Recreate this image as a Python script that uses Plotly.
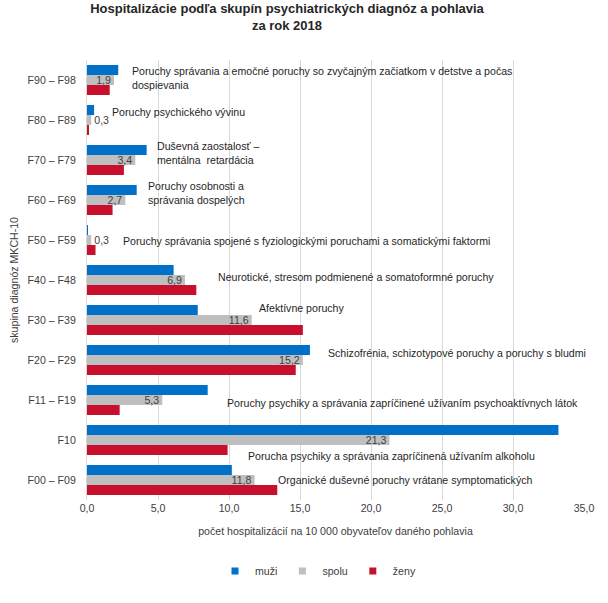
import plotly.graph_objects as go

categories = ["F00 – F09", "F10", "F11 – F19", "F20 – F29", "F30 – F39", "F40 – F48",
              "F50 – F59", "F60 – F69", "F70 – F79", "F80 – F89", "F90 – F98"]
muzi = [10.2, 33.2, 8.5, 15.7, 7.8, 6.1, 0.05, 3.5, 4.2, 0.5, 2.2]
spolu = [11.8, 21.3, 5.3, 15.2, 11.6, 6.9, 0.3, 2.7, 3.4, 0.3, 1.9]
zeny = [13.4, 9.9, 2.3, 14.7, 15.2, 7.7, 0.6, 1.8, 2.6, 0.1, 1.6]

descriptions = [
    "Organické duševné poruchy vrátane symptomatických",
    "Porucha psychiky a správania zapríčinená užívaním alkoholu",
    "Poruchy psychiky a správania zapríčinené užívaním psychoaktívnych látok",
    "Schizofrénia, schizotypové poruchy a poruchy s bludmi",
    "Afektívne poruchy",
    "Neurotické, stresom podmienené a somatoformné poruchy",
    "Poruchy správania spojené s fyziologickými poruchami a somatickými faktormi",
    "Poruchy osobnosti a<br>správania dospelých",
    "Duševná zaostalosť –<br>mentálna  retardácia",
    "Poruchy psychického vývinu",
    "Poruchy správania a emočné poruchy so zvyčajným začiatkom v detstve a počas<br>dospievania",
]
# label placement (x in data units, vertical shift in px)
desc_x = [13.3, 11.2, 9.7, 16.8, 12.0, 9.1, 2.4, 4.15, 4.8, 1.6, 3.0]
desc_shift = [0, -16, -3, 7, 12, 3, -1, 7, 7, 8, 2]

series_names = ["muži", "spolu", "ženy"]
series_colors = ["#0070C8", "#BFBFBF", "#C8102E"]

FONT = "Liberation Sans, Arial, sans-serif"
FS = 10.6

fig = go.Figure()
fig.add_trace(go.Bar(y=categories, x=zeny, orientation="h", name="ženy", showlegend=False,
                     marker=dict(color=series_colors[2], line=dict(width=0))))
fig.add_trace(go.Bar(y=categories, x=spolu, orientation="h", name="spolu", showlegend=False,
                     marker=dict(color=series_colors[1], line=dict(width=0)),
                     texttemplate="%{x:.1f}", textposition="auto",
                     insidetextanchor="end", constraintext="none",
                     textfont=dict(size=FS, color="#404040", family=FONT),
                     cliponaxis=False))
fig.add_trace(go.Bar(y=categories, x=muzi, orientation="h", name="muži", showlegend=False,
                     marker=dict(color=series_colors[0], line=dict(width=0))))

# legend entries with small square swatches
for n, c in zip(series_names, series_colors):
    fig.add_trace(go.Scatter(x=[None], y=[None], mode="markers", name=n,
                             marker=dict(symbol="square", size=7, color=c)))

for c, d, dx, ds in zip(categories, descriptions, desc_x, desc_shift):
    fig.add_annotation(x=dx, y=c, xref="x", yref="y", text=d, showarrow=False,
                       xanchor="left", yanchor="middle", align="left", yshift=ds,
                       font=dict(size=FS, color="#262626", family=FONT))

fig.update_layout(
    width=608, height=603,
    margin=dict(l=87, r=24, t=60, b=103, autoexpand=False),
    paper_bgcolor="white", plot_bgcolor="white",
    separators=", ",
    barmode="group", bargap=0.25, bargroupgap=0,
    font=dict(family=FONT, size=FS, color="#404040"),
    title=dict(text="<b>Hospitalizácie podľa skupín psychiatrických diagnóz a pohlavia<br>za rok 2018</b>",
               x=287/608, xref="container", xanchor="center", y=1-13/603, yanchor="top",
               font=dict(size=13, color="#262626", family=FONT)),
    xaxis=dict(range=[0, 35], dtick=5, tickformat=".1f", showgrid=True,
               gridcolor="#D9D9D9", zeroline=False, showline=False,
               tickfont=dict(size=FS, color="#404040"), ticks="", automargin=False,
               title=dict(text="počet hospitalizácií na 10 000 obyvateľov daného pohlavia",
                          font=dict(size=FS, color="#404040"), standoff=14)),
    yaxis=dict(range=[-0.5, 10.5], showgrid=False, showline=True, linecolor="#D9D9D9",
               ticks="", ticklabelstandoff=8, tickfont=dict(size=FS, color="#404040"),
               automargin=False,
               title=dict(text="skupina diagnóz MKCH-10", font=dict(size=FS, color="#404040"),
                          standoff=6)),
    legend=dict(orientation="h", x=318/608, xanchor="center", xref="container",
                y=1-571/603, yanchor="middle", yref="container",
                font=dict(size=FS, color="#404040"), itemwidth=30, tracegroupgap=0),
)

fig.write_html("out.html")
